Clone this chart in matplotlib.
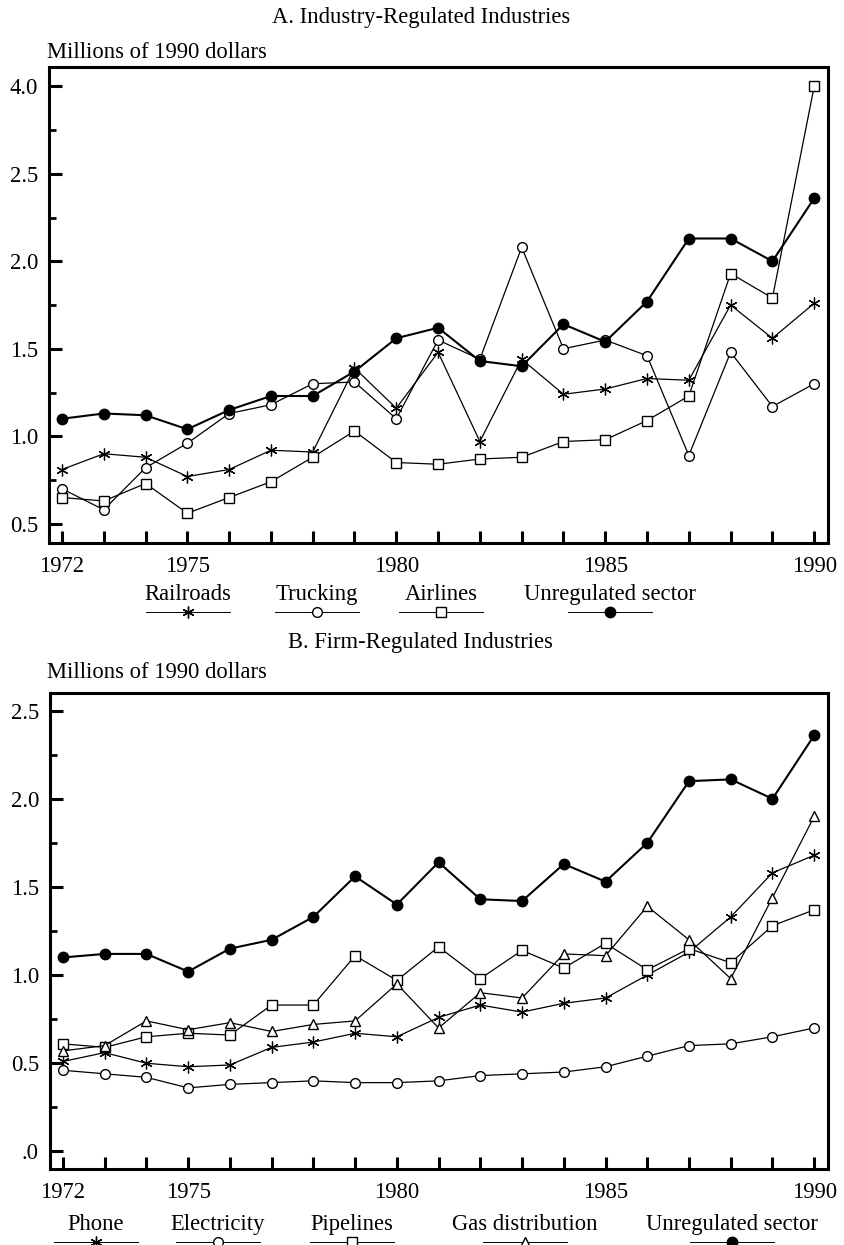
import numpy as np
import matplotlib
matplotlib.use("Agg")
import matplotlib.pyplot as plt
from matplotlib.lines import Line2D

plt.rcParams['font.family'] = ['Liberation Serif', 'DejaVu Serif']

years = list(range(1972, 1991))

# Panel A: industry-regulated industries (millions of 1990 dollars)
railroads = [0.81, 0.90, 0.88, 0.77, 0.81, 0.92, 0.91, 1.39, 1.16, 1.48, 0.97, 1.44, 1.24, 1.27, 1.33, 1.32, 1.75, 1.56, 1.76]
trucking = [0.70, 0.58, 0.82, 0.96, 1.13, 1.18, 1.30, 1.31, 1.10, 1.55, 1.44, 2.08, 1.50, 1.55, 1.46, 0.89, 1.48, 1.17, 1.30]
airlines = [0.65, 0.63, 0.73, 0.56, 0.65, 0.74, 0.88, 1.03, 0.85, 0.84, 0.87, 0.88, 0.97, 0.98, 1.09, 1.23, 1.93, 1.79, 4.00]
unreg_a = [1.10, 1.13, 1.12, 1.04, 1.15, 1.23, 1.23, 1.37, 1.56, 1.62, 1.43, 1.40, 1.64, 1.54, 1.77, 2.13, 2.13, 2.00, 2.36]

# Panel B: firm-regulated industries
phone = [0.51, 0.56, 0.50, 0.48, 0.49, 0.59, 0.62, 0.67, 0.65, 0.76, 0.83, 0.79, 0.84, 0.87, 1.00, 1.13, 1.33, 1.58, 1.68]
electricity = [0.46, 0.44, 0.42, 0.36, 0.38, 0.39, 0.40, 0.39, 0.39, 0.40, 0.43, 0.44, 0.45, 0.48, 0.54, 0.60, 0.61, 0.65, 0.70]
pipelines = [0.61, 0.59, 0.65, 0.67, 0.66, 0.83, 0.83, 1.11, 0.97, 1.16, 0.98, 1.14, 1.04, 1.18, 1.03, 1.15, 1.07, 1.28, 1.37]
gas_dist = [0.57, 0.60, 0.74, 0.69, 0.73, 0.68, 0.72, 0.74, 0.95, 0.70, 0.90, 0.87, 1.12, 1.11, 1.39, 1.20, 0.98, 1.44, 1.90]
unreg_b = [1.10, 1.12, 1.12, 1.02, 1.15, 1.20, 1.33, 1.56, 1.40, 1.64, 1.43, 1.42, 1.63, 1.53, 1.75, 2.10, 2.11, 2.00, 2.36]

xtick_labels = {1972: "1972", 1975: "1975", 1980: "1980", 1985: "1985", 1990: "1990"}
a_yticks = [0.5, 1.0, 1.5, 2.0, 2.5, 4.0]
a_ylabels = ["0.5", "1.0", "1.5", "2.0", "2.5", "4.0"]
b_yticks = [0.0, 0.5, 1.0, 1.5, 2.0, 2.5]
b_ylabels = [".0", "0.5", "1.0", "1.5", "2.0", "2.5"]

W, H = 844, 1245
fig = plt.figure(figsize=(W / 100, H / 100), dpi=100)

FS = 16.3
ast = (6, 2, 0)


def fx(px):
    return px / W


def fy(py):
    return 1 - py / H


def make_ax(left, right, top, bottom):
    return fig.add_axes([fx(left), fy(bottom), fx(right - left), (bottom - top) / H])


# axis break for panel A: values above 2.5 compressed by factor 3
def fwd(y):
    y = np.asarray(y, dtype=float)
    return np.where(y <= 2.5, y, 2.5 + (y - 2.5) / 3.0)


def inv(y):
    y = np.asarray(y, dtype=float)
    return np.where(y <= 2.5, y, 2.5 + (y - 2.5) * 3.0)


def style_ax(ax):
    for s in ax.spines.values():
        s.set_linewidth(2.2)
    ax.set_xlim(1971.69, 1990.33)
    ax.set_xticks(years)
    ax.set_xticklabels([xtick_labels.get(y, "") for y in years], fontsize=FS)
    ax.tick_params(axis='x', direction='in', length=9, width=2.2, pad=9)
    ax.tick_params(axis='y', which='major', direction='in', length=9, width=2.2, pad=8, labelsize=FS)
    ax.tick_params(axis='y', which='minor', direction='in', length=5, width=2.0)
    ax.tick_params(top=False, right=False)


lw = 0.9
ms = 7

# ---------- Panel A ----------
axA = make_ax(49, 828, 67, 543)
axA.set_yscale('function', functions=(fwd, inv))
axA.plot(years, unreg_a, color='black', lw=1.5, marker='o', ms=ms + 0.5, mfc='black', mec='black', zorder=5)
axA.plot(years, railroads, color='black', lw=lw, marker=ast, ms=ms + 1.5, mew=0.9, zorder=4)
axA.plot(years, trucking, color='black', lw=lw, marker='o', ms=ms, mfc='white', mec='black', mew=1.0, zorder=4)
axA.plot(years, airlines, color='black', lw=lw, marker='s', ms=ms - 0.5, mfc='white', mec='black', mew=1.0, zorder=4)
axA.set_ylim(0.39, float(inv(3.11)))
axA.set_yticks(a_yticks)
axA.set_yticklabels(a_ylabels)
axA.set_yticks([0.75, 1.25, 1.75, 2.25, 3.25], minor=True)
axA.yaxis.set_minor_formatter(matplotlib.ticker.NullFormatter())
style_ax(axA)

fig.text(fx(421), fy(23), "A. Industry-Regulated Industries", ha='center', va='baseline', fontsize=FS)
fig.text(fx(47), fy(58), "Millions of 1990 dollars", ha='left', va='baseline', fontsize=FS)

# ---------- Panel B ----------
axB = make_ax(50, 828, 693, 1169)
axB.plot(years, unreg_b, color='black', lw=1.5, marker='o', ms=ms + 0.5, mfc='black', mec='black', zorder=5)
axB.plot(years, phone, color='black', lw=lw, marker=ast, ms=ms + 1.5, mew=0.9, zorder=4)
axB.plot(years, electricity, color='black', lw=lw, marker='o', ms=ms, mfc='white', mec='black', mew=1.0, zorder=4)
axB.plot(years, pipelines, color='black', lw=lw, marker='s', ms=ms - 0.5, mfc='white', mec='black', mew=1.0, zorder=4)
axB.plot(years, gas_dist, color='black', lw=lw, marker='^', ms=ms, mfc='white', mec='black', mew=1.0, zorder=4)
axB.set_ylim(-0.10, 2.60)
axB.set_yticks(b_yticks)
axB.set_yticklabels(b_ylabels)
axB.set_yticks([0.25, 0.75, 1.25, 1.75, 2.25], minor=True)
axB.yaxis.set_minor_formatter(matplotlib.ticker.NullFormatter())
style_ax(axB)

fig.text(fx(420), fy(648), "B. Firm-Regulated Industries", ha='center', va='baseline', fontsize=FS)
fig.text(fx(47), fy(678), "Millions of 1990 dollars", ha='left', va='baseline', fontsize=FS)


# ---------- legends ----------
def legend_item(label, cx, ty, ly, half, marker, mfc, msz):
    fig.text(fx(cx), fy(ty), label, ha='center', va='baseline', fontsize=FS)
    fig.add_artist(Line2D([fx(cx - half), fx(cx + half)], [fy(ly), fy(ly)], color='black', lw=0.7,
                          transform=fig.transFigure))
    fig.add_artist(Line2D([fx(cx)], [fy(ly)], color='black', lw=0, marker=marker, ms=msz,
                          mfc=mfc, mec='black', mew=1.0, transform=fig.transFigure))


legA = [("Railroads", 188, ast, 'black', ms + 1.5),
        ("Trucking", 317, 'o', 'white', ms),
        ("Airlines", 441, 's', 'white', ms - 0.5),
        ("Unregulated sector", 610, 'o', 'black', ms + 0.5)]
for lab, cx, mk, fc, msz in legA:
    legend_item(lab, cx, 600, 612, 42, mk, fc, msz)

legB = [("Phone", 96, ast, 'black', ms + 1.5),
        ("Electricity", 218, 'o', 'white', ms),
        ("Pipelines", 352, 's', 'white', ms - 0.5),
        ("Gas distribution", 525, '^', 'white', ms),
        ("Unregulated sector", 732, 'o', 'black', ms + 0.5)]
for lab, cx, mk, fc, msz in legB:
    legend_item(lab, cx, 1230, 1242, 42, mk, fc, msz)

fig.savefig("out.png", dpi=100)
